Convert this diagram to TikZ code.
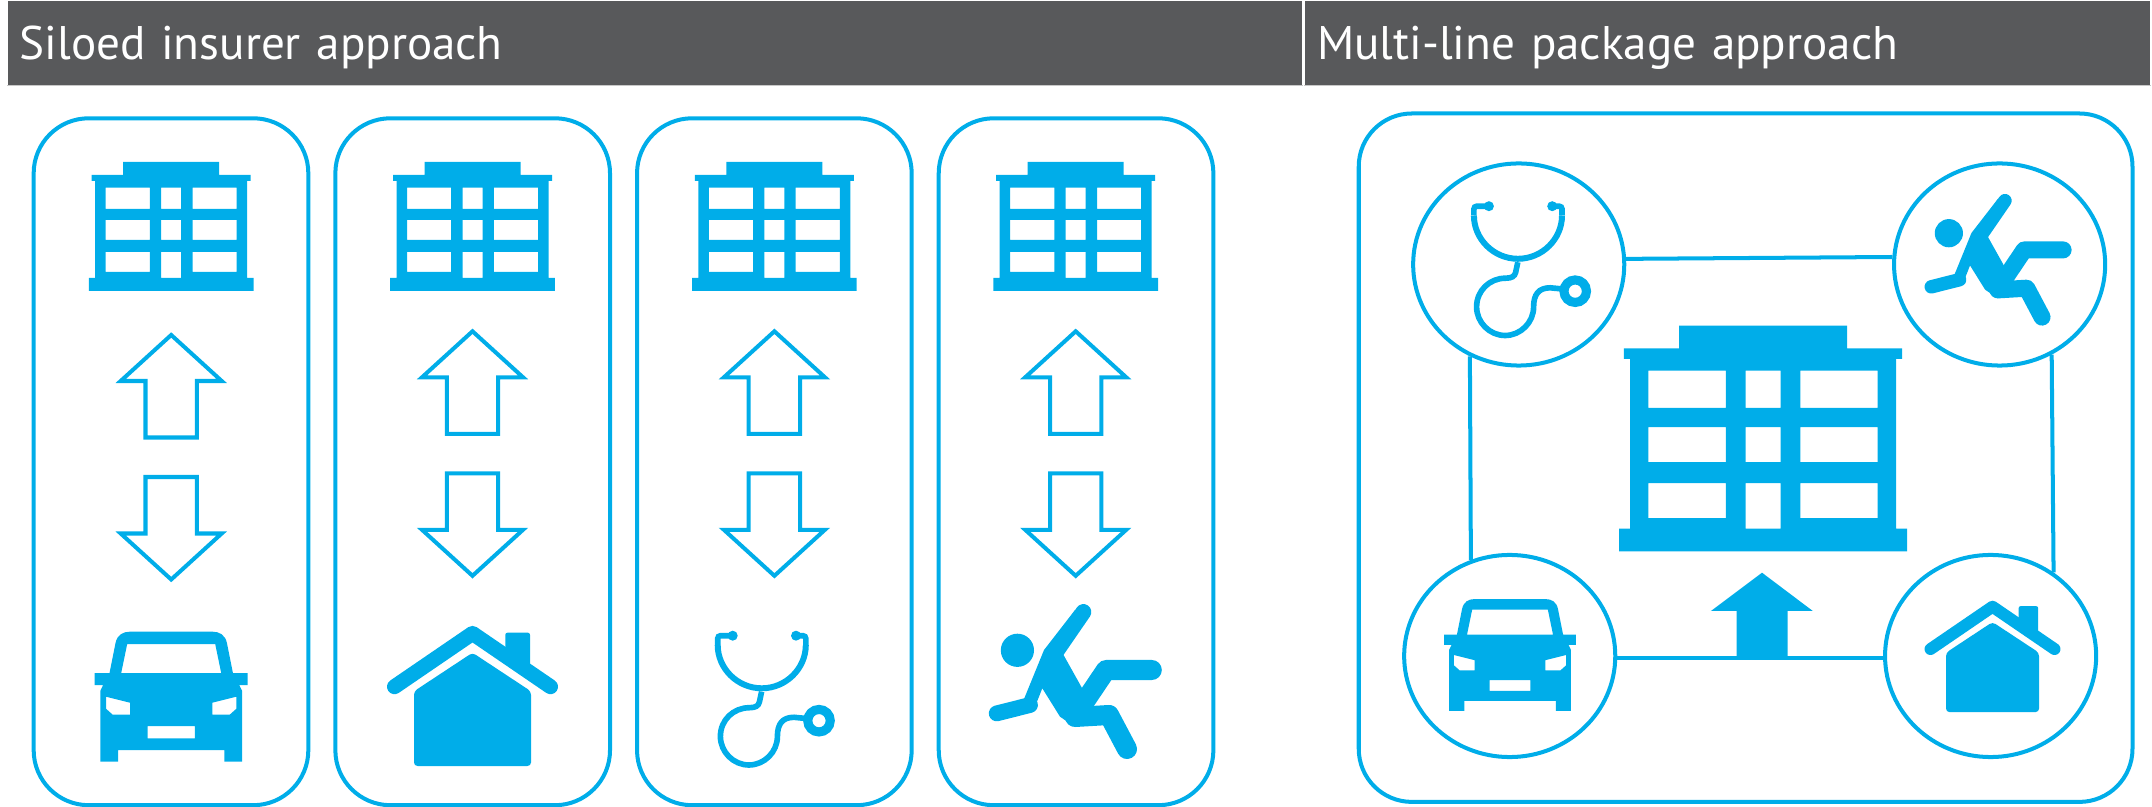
\documentclass[tikz,border=0pt]{standalone}
\usepackage{fontspec}
\setmainfont{PT Sans}
\usetikzlibrary{positioning}
\usetikzlibrary{shapes.geometric}
\definecolor{insblue}{HTML}{00ADE9}
\definecolor{headgray}{HTML}{58595B}
\definecolor{rulegray}{HTML}{C8C8C8}

\tikzset{
  pics/building/.style={code={
    \fill[insblue, even odd rule]
      (-48,-64.5) -- (48,-64.5) -- (48,-51.5) -- (79.5,-51.5) -- (79.5,-45.5) -- (76,-45.5) -- (76,51.5)
      -- (82.3,51.5) -- (82.3,64.5) -- (-82.3,64.5) -- (-82.3,51.5) -- (-76,51.5) -- (-76,-45.5)
      -- (-79.5,-45.5) -- (-79.5,-51.5) -- (-48,-51.5) -- cycle
      (-65.5,-38.8) rectangle (-21.3,-17.5) (-10,-38.8) rectangle (10,-17.5) (21.3,-38.8) rectangle (65.5,-17.5)
      (-65.5,-6.5) rectangle (-21.3,13.5) (-10,-6.5) rectangle (10,13.5) (21.3,-6.5) rectangle (65.5,13.5)
      (-65.5,25.5) rectangle (-21.3,45.5) (-10,25.5) rectangle (10,51.5) (21.3,25.5) rectangle (65.5,45.5);
  }},
  pics/hollowup/.style={code={
    \draw[insblue, line width=1.14pt]
      (0,-51) -- (50.5,-5) -- (25.7,-5) -- (25.7,51.5) -- (-25.7,51.5) -- (-25.7,-5) -- (-50.5,-5) -- cycle;
  }},
  pics/car/.style={code={
    \fill[insblue, even odd rule]
      (-41.5,-65) -- (41.5,-65) .. controls (48,-65) and (54,-62) .. (55.7,-53.7) -- (61.7,-23.7) -- (76.5,-23.7)
      -- (76.5,-11.7) -- (68,-11.7) -- (70.8,-6) -- (70.8,65) -- (53.2,65) -- (53.2,53.3) -- (-53.2,53.3)
      -- (-53.2,65) -- (-70.8,65) -- (-70.8,-6) -- (-68,-11.7) -- (-76.5,-11.7) -- (-76.5,-23.7) -- (-61.7,-23.7)
      -- (-55.7,-53.7) .. controls (-54,-62) and (-48,-65) .. (-41.5,-65) -- cycle
      (-44,-52.7) -- (44,-52.7) -- (50,-23.7) -- (-50,-23.7) -- cycle
      (-65.2,0) -- (-41.2,6) -- (-41.2,18) -- (-58.5,18) -- (-65.2,12) -- cycle
      (65.2,0) -- (41.2,6) -- (41.2,18) -- (58.5,18) -- (65.2,12) -- cycle
      (-23.7,29.3) rectangle (23.7,41.6);
  }},
  pics/house/.style={code={
    \begin{scope}[scale=#1]
      \fill[insblue, rounded corners=0.6pt] (32.8,-36) -- (32.8,-62.1) -- (57.5,-62.1) -- (57.5,-20) -- cycle;
      \draw[insblue, line width=#1*4.27pt, line cap=round, line join=round] (-78,-8.1) -- (0,-61.4) -- (78,-8.1);
      \fill[insblue, rounded corners=1pt] (0,-42.1) -- (58.5,-3.5) -- (58.5,71.2) -- (-58.5,71.2) -- (-58.5,-3.5) -- cycle;
    \end{scope}
  }},
  pics/scope/.style={code={
    \draw[insblue, line width=1.6pt, rounded corners=0.8pt] (-41.7,-64.3) -- (-56.7,-64.3) -- (-56.7,-55);
    \draw[insblue, line width=1.6pt, rounded corners=0.8pt] (21.6,-64.3) -- (31.4,-64.3) -- (31.4,-55);
    \draw[insblue, line width=1.7pt]
      (-56.7,-55) .. controls (-56.7,-31.4) and (-36.85,-11.7) .. (-12.65,-11.7)
      .. controls (11.5,-11.7) and (31.4,-31.4) .. (31.4,-55);
    \fill[insblue] (-41.7,-64.3) circle[radius=5] (21.6,-64.3) circle[radius=5];
    \draw[insblue, line width=1.6pt]
      (-12.8,-8.3) -- (-15,2) .. controls (-16,6) and (-19,7.7) .. (-25,7.7)
      .. controls (-41,7.7) and (-54,20) .. (-54,36.4) .. controls (-54,52) and (-41,65) .. (-25.5,65)
      .. controls (-10,65) and (3,52) .. (3,36.4) .. controls (3,24) and (8,17.3) .. (19.6,17.3) -- (30,18.3);
    \draw[insblue, line width=2.59pt, fill=white] (44.6,20.7) circle[radius=11.25];
  }},
  pics/runner/.style={code={
    \begin{scope}[scale=#1]
      \fill[insblue] (-58.3,-31.3) circle[radius=16.6];
      \fill[insblue] (-31.7,-31.6) -- (-51.7,17.4) -- (-42.7,30.1) -- (-33.4,6.7) -- (-15.7,35.1) -- (-0.7,45.4)
        -- (15.3,23.4) -- (5,4.1) -- (-14,-29.9) -- (9.3,-61.6) -- (-0.7,-71.6) -- cycle;
      \draw[insblue, line width=#1*4.5pt, line cap=round] (7.7,-69.6) -- (-26.7,-19.6);
      \draw[insblue, line width=#1*4.5pt, line cap=round] (-79,31.8) -- (-45.7,23.4);
      \draw[insblue, line width=#1*5.7pt, line cap=round, line join=round] (51.3,67.4) -- (33.3,33.4) -- (-0.7,35.4);
      \draw[insblue, line width=#1*5.7pt, line cap=round, line join=round] (76.1,-11.6) -- (30.3,-11.6) -- (-0.7,34.4);
    \end{scope}
  }}
}

\begin{document}
\begin{tikzpicture}[
  x=0.01cm, y=-0.01cm,
  header/.style={fill=headgray, anchor=north west, minimum height=0.84cm, inner xsep=0.12cm, text=white,
    align=left, text height=0.44cm, text depth=0.10cm, font=\fontsize{13.4}{16}\selectfont},
  panel/.style={draw=insblue, line width=1.14pt, rounded corners=0.55cm, minimum width=2.745cm, minimum height=6.865cm},
  frame/.style={draw=insblue, line width=1.14pt, rounded corners=0.53cm, minimum width=7.733cm, minimum height=6.88cm},
  disc/.style={draw=insblue, fill=white, line width=1.14pt, ellipse, inner sep=0pt, minimum width=2.11cm, minimum height=2.02cm},
  link/.style={draw=insblue, line width=1.14pt}
]
\useasboundingbox (0,0) rectangle (2152,807);

\node[header, minimum width=12.94cm, text width=12.7cm] (siloedhead) at (7,0) {Siloed insurer approach};
\node[header, minimum width=8.45cm, text width=8.2cm] (multihead) at (1304,0) {Multi-line package approach};
\draw[rulegray] (siloedhead.south west) -- (siloedhead.south east);
\draw[rulegray] (multihead.south west) -- (multihead.south east);

% one silo per insurance line
\node[panel] (carpanel) at (171,461.75) {};
\node[panel, right=0.23cm of carpanel] (homepanel) {};
\node[panel, right=0.23cm of homepanel] (healthpanel) {};
\node[panel, right=0.23cm of healthpanel] (accidentpanel) {};

\pic at (171.2,226.5) {building};
\pic at (171.2,386) {hollowup};
\pic[yscale=-1] at (171.2,528.5) {hollowup};
\pic at (171.2,696.7) {car};

\pic at (472.5,226.5) {building};
\pic at (472.5,382.3) {hollowup};
\pic[yscale=-1] at (472.5,524.8) {hollowup};
\pic at (472.5,694.8) {house=1};

\pic at (774.4,226.5) {building};
\pic at (774.4,382.3) {hollowup};
\pic[yscale=-1] at (774.4,524.8) {hollowup};
\pic at (774.4,700) {scope};

\pic at (1075.7,226.5) {building};
\pic at (1075.7,382.3) {hollowup};
\pic[yscale=-1] at (1075.7,524.8) {hollowup};
\pic at (1075.7,681.6) {runner=1};

% package side
\node[frame] (packframe) at (1745.6,457.7) {};
\pic[scale=1.75] at (1763,438.5) {building};

\node[disc] (healthdisc) at (1518.7,264.5) {};
\node[disc] (accidentdisc) at (1999.6,264.5) {};
\node[disc] (cardisc) at (1509.7,656) {};
\node[disc] (homedisc) at (1990.6,656) {};

\draw[link] (healthdisc.3.7) -- (accidentdisc.176.3);
\draw[link] (healthdisc.242.1) -- (cardisc.112.4);
\draw[link] (accidentdisc.300.6) -- (homedisc.53.5);
\draw[link] (cardisc.-1) -- (homedisc.181);

\fill[insblue] (1762,572.7) -- (1812.8,611) -- (1787.7,611) -- (1787.7,657) -- (1736.5,657) -- (1736.5,611) -- (1710.9,611) -- cycle;

\pic at (1530.6,270.5) {scope};
\pic at (1998.4,259.8) {runner=0.85};
\pic[scale=0.86] at (1510,655) {car};
\pic at (1992.5,655.5) {house=0.795};
\end{tikzpicture}
\end{document}
